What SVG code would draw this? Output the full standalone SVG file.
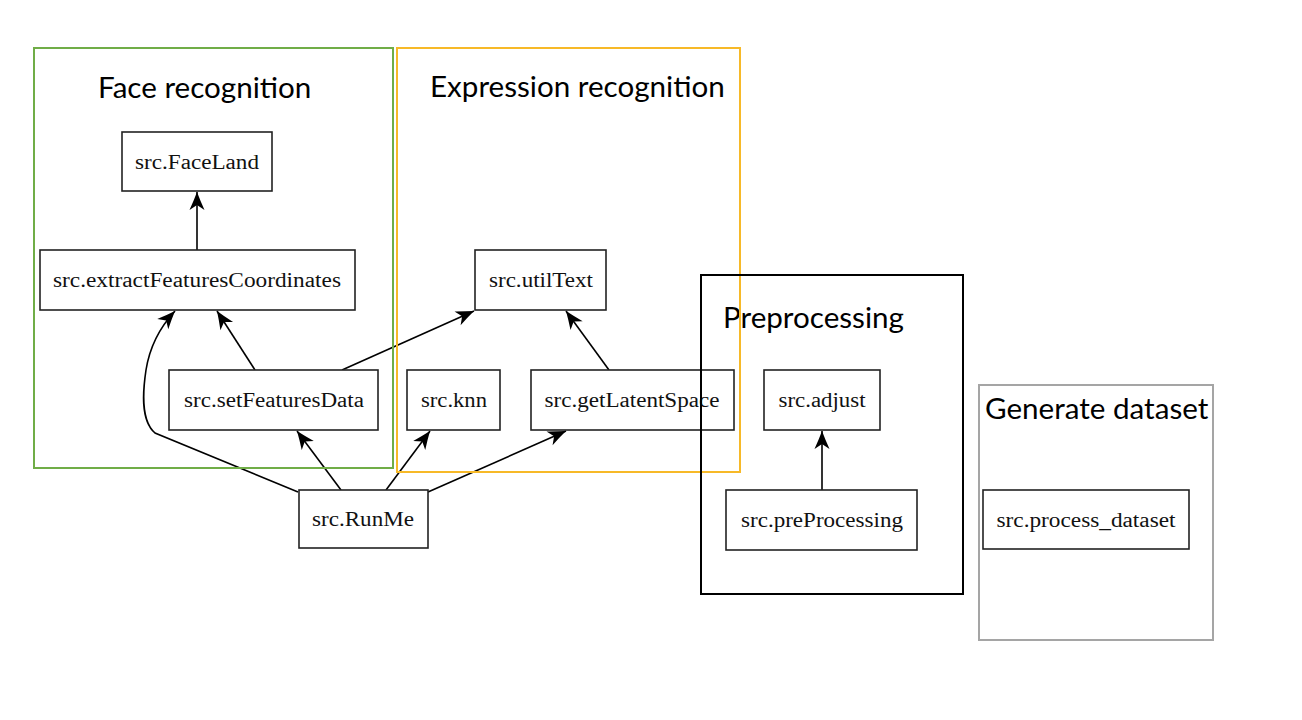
<svg xmlns="http://www.w3.org/2000/svg" width="1302" height="720" viewBox="0 0 1302 720">
<defs>
<marker id="vee" viewBox="-7 -9 20 18" refX="12" refY="0" markerWidth="20" markerHeight="18" markerUnits="userSpaceOnUse" orient="auto">
<path d="M12,0 Q4,-3 -6,-7.5 L-1,0 L-6,7.5 Q4,3 12,0 z" fill="#000"/>
</marker>
<style>
.node rect{fill:#fff;stroke:#222;stroke-width:1.6}
.node text{font-family:"Liberation Serif","Times New Roman",serif;font-size:20px;fill:#111;text-anchor:middle;dominant-baseline:central}
.edge{fill:none;stroke:#000;stroke-width:1.6;marker-end:url(#vee)}
.title{font-family:Lato,"Open Sans",sans-serif;font-size:29.6px;fill:#000}
.grp{fill:none;stroke-width:2}
</style>
</defs>
<rect width="1302" height="720" fill="#fff"/>
<g id="connectors">
<path class="edge" d="M197,250 L197,192"/>
<path class="edge" d="M255,370 L217,311"/>
<path class="edge" d="M298,492 L155,433 C140,420 143,390 146,370 C150,345 162,325 175,311"/>
<path class="edge" d="M342,370 L474,311"/>
<path class="edge" d="M609,370 L566,311"/>
<path class="edge" d="M341,490 L297,431"/>
<path class="edge" d="M386,490 L430,431"/>
<path class="edge" d="M428,492 L566,431"/>
<path class="edge" d="M822,490 L822,431"/>
</g>
<g id="n-faceland" class="node"><rect x="122" y="132" width="150" height="59"/><text x="197" y="162" textLength="124" lengthAdjust="spacingAndGlyphs">src.FaceLand</text></g>
<g id="n-extract" class="node"><rect x="40" y="250" width="315" height="60"/><text x="197" y="280" textLength="288" lengthAdjust="spacingAndGlyphs">src.extractFeaturesCoordinates</text></g>
<g id="n-utiltext" class="node"><rect x="475" y="250" width="131" height="60"/><text x="541" y="280" textLength="104" lengthAdjust="spacingAndGlyphs">src.utilText</text></g>
<g id="n-setfeatures" class="node"><rect x="169" y="370" width="209" height="60"/><text x="274" y="400" textLength="180" lengthAdjust="spacingAndGlyphs">src.setFeaturesData</text></g>
<g id="n-knn" class="node"><rect x="407" y="370" width="93" height="60"/><text x="454" y="400" textLength="66" lengthAdjust="spacingAndGlyphs">src.knn</text></g>
<g id="n-latent" class="node"><rect x="531" y="370" width="203" height="60"/><text x="632" y="400" textLength="175" lengthAdjust="spacingAndGlyphs">src.getLatentSpace</text></g>
<g id="n-runme" class="node"><rect x="299" y="490" width="129" height="58"/><text x="363" y="519" textLength="102" lengthAdjust="spacingAndGlyphs">src.RunMe</text></g>
<g id="n-adjust" class="node"><rect x="764" y="370" width="116" height="60"/><text x="822" y="400" textLength="87" lengthAdjust="spacingAndGlyphs">src.adjust</text></g>
<g id="n-preprocessing" class="node"><rect x="726" y="490" width="191" height="60"/><text x="822" y="520" textLength="162" lengthAdjust="spacingAndGlyphs">src.preProcessing</text></g>
<g id="n-processdataset" class="node"><rect x="983" y="490" width="206" height="59"/><text x="1086" y="520" textLength="179" lengthAdjust="spacingAndGlyphs">src.process_dataset</text></g>
<g id="titles">
<text class="title" x="98" y="98">Face recognition</text>
<text class="title" x="430" y="97">Expression recognition</text>
<text class="title" x="723" y="328">Preprocessing</text>
<text class="title" x="985" y="419">Generate dataset</text>
</g>
<g id="groups">
<rect class="grp" x="34" y="48" width="359" height="420" stroke="#70AD47"/>
<rect class="grp" x="397" y="48" width="343" height="424" stroke="#F7B928"/>
<rect class="grp" x="701" y="275" width="262" height="319" stroke="#000"/>
<rect class="grp" x="979" y="385" width="234" height="255" stroke="#A5A5A5"/>
</g>
</svg>
